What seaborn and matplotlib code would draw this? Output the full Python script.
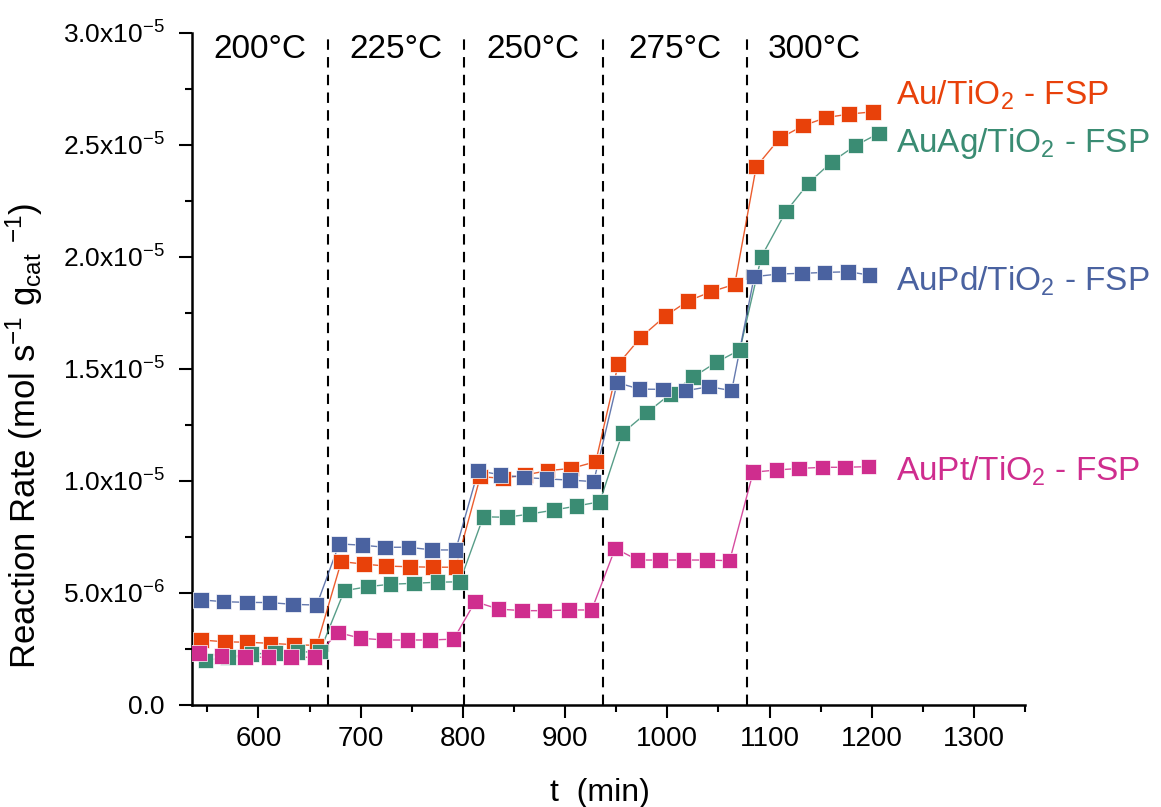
import numpy as np
import pandas as pd
import matplotlib
matplotlib.use("Agg")
import matplotlib.pyplot as plt
import seaborn as sns
from matplotlib.ticker import MultipleLocator, FuncFormatter

# time on stream (min) and reaction rate (x1e-6 mol s-1 gcat-1) per catalyst
t_au = [544, 567, 589, 612, 635, 657, 681, 703, 725, 748, 771, 793, 817, 839, 861,
        883, 906, 930, 952, 974, 998, 1020, 1043, 1066, 1087, 1110, 1133, 1155, 1178, 1201]
r_au = [2.88, 2.80, 2.78, 2.73, 2.67, 2.64, 6.38, 6.27, 6.18, 6.15, 6.13, 6.13,
        10.17, 10.10, 10.25, 10.44, 10.54, 10.84, 15.20, 16.39, 17.34, 18.01, 18.43, 18.76,
        24.01, 25.28, 25.84, 26.20, 26.36, 26.46]

t_auag = [548, 570, 593, 616, 638, 660, 684, 707, 729, 752, 775, 797, 820, 843, 865,
          889, 911, 934, 956, 980, 1003, 1025, 1048, 1071, 1092, 1116, 1138, 1161, 1184, 1207]
r_auag = [1.96, 2.13, 2.25, 2.31, 2.34, 2.36, 5.08, 5.26, 5.37, 5.41, 5.46, 5.48,
          8.38, 8.36, 8.50, 8.68, 8.86, 9.05, 12.11, 13.03, 13.86, 14.61, 15.28, 15.83,
          19.99, 22.00, 23.27, 24.23, 24.95, 25.50]

t_aupd = [544, 566, 589, 611, 634, 657, 679, 702, 724, 747, 770, 793, 815, 837, 860,
          882, 905, 928, 951, 973, 996, 1018, 1041, 1063, 1085, 1109, 1132, 1154, 1177, 1198]
r_aupd = [4.67, 4.59, 4.56, 4.55, 4.47, 4.44, 7.17, 7.11, 7.02, 7.02, 6.90, 6.90,
          10.44, 10.25, 10.14, 10.07, 10.02, 9.95, 14.37, 14.08, 14.07, 14.01, 14.19, 14.01,
          19.10, 19.22, 19.25, 19.29, 19.32, 19.17]

t_aupt = [542, 564, 587, 610, 632, 655, 678, 700, 723, 746, 768, 791, 812, 835, 858,
          880, 904, 926, 949, 971, 993, 1016, 1039, 1061, 1084, 1107, 1129, 1152, 1174, 1197]
r_aupt = [2.31, 2.17, 2.11, 2.11, 2.11, 2.11, 3.21, 2.96, 2.88, 2.88, 2.88, 2.92,
          4.59, 4.26, 4.19, 4.19, 4.22, 4.22, 6.97, 6.45, 6.45, 6.45, 6.45, 6.42,
          10.37, 10.47, 10.54, 10.59, 10.59, 10.62]

catalysts = ["Au", "AuAg", "AuPd", "AuPt"]
colors = ["#E8410A", "#3A8C73", "#4A62A0", "#CF2D8E"]
temps = ["200°C", "225°C", "250°C", "275°C", "300°C"]
step_bounds = [535, 668, 801, 937, 1078, 1210]

frames = []
for name, t, r in zip(catalysts, [t_au, t_auag, t_aupd, t_aupt], [r_au, r_auag, r_aupd, r_aupt]):
    frames.append(pd.DataFrame({"t": t, "rate": np.array(r) * 1e-6, "cat": name}))
df = pd.concat(frames, ignore_index=True)

sns.set_style("ticks")
plt.rcParams["font.family"] = ["Liberation Sans", "DejaVu Sans"]
plt.rcParams["mathtext.default"] = "regular"
plt.rcParams["text.color"] = "black"
plt.rcParams["axes.labelcolor"] = "black"

fig, ax = plt.subplots(figsize=(11.61, 8.07), dpi=100)
fig.subplots_adjust(left=0.1654, right=0.8829, bottom=0.127, top=0.9597)

pal = dict(zip(catalysts, colors))
sns.lineplot(data=df, x="t", y="rate", hue="cat", hue_order=catalysts, palette=pal,
             linewidth=1.0, alpha=0.85, sort=False, estimator=None, legend=False, ax=ax)
sns.scatterplot(data=df, x="t", y="rate", hue="cat", hue_order=catalysts, palette=pal,
                marker="s", s=125, edgecolor="white", linewidth=0.5, legend=False, ax=ax, zorder=3)

# temperature steps
for xb in step_bounds[1:-1]:
    ax.axvline(xb, ymin=0, ymax=1, color="black", linestyle=(0, (5, 3.5)), linewidth=1.5, zorder=1)
for i, lab in enumerate(temps):
    xc = (step_bounds[i] + step_bounds[i + 1]) / 2
    ax.text(xc, 29.25e-6, lab, ha="center", va="center", fontsize=24)

# series labels on the right
labels = [r"Au/TiO$_2$ - FSP", r"AuAg/TiO$_2$ - FSP", r"AuPd/TiO$_2$ - FSP", r"AuPt/TiO$_2$ - FSP"]
label_y = [26.76e-6, 24.68e-6, 18.47e-6, 9.99e-6]
for lab, yy, c in zip(labels, label_y, colors):
    ax.text(1224, yy, lab, color=c, fontsize=24, ha="left", va="baseline", clip_on=False)

ax.set_xlim(535, 1350)
ax.set_ylim(0, 3.0e-5)
ax.xaxis.set_major_locator(MultipleLocator(100))
ax.xaxis.set_minor_locator(MultipleLocator(50))
ax.yaxis.set_major_locator(MultipleLocator(5e-6))
ax.yaxis.set_minor_locator(MultipleLocator(2.5e-6))


def sci(v, pos):
    if abs(v) < 1e-12:
        return "0.0"
    e = int(np.floor(np.log10(abs(v))))
    m = v / 10 ** e
    return f"{m:.1f}x10$^{{{e}}}$"


ax.yaxis.set_major_formatter(FuncFormatter(sci))
ax.tick_params(axis="both", which="major", direction="out", length=9.5, width=1.5,
               color="black", labelcolor="black", labelsize=19)
ax.tick_params(axis="both", which="minor", direction="out", length=5, width=1.5, color="black")
ax.tick_params(axis="x", labelsize=20, pad=6)
ax.tick_params(axis="y", pad=10)

for side in ["top", "right"]:
    ax.spines[side].set_visible(False)
for side in ["left", "bottom"]:
    ax.spines[side].set_linewidth(1.8)
    ax.spines[side].set_color("black")

ax.set_xlabel("t  (min)", fontsize=23)
ax.set_ylabel(r"Reaction Rate (mol s$^{-1}$ g$_{cat}$ $^{-1}$)", fontsize=25)
ax.xaxis.set_label_coords(0.49, -0.11)
ax.yaxis.set_label_coords(-0.176, 0.40)

fig.savefig("out.png", dpi=100)
